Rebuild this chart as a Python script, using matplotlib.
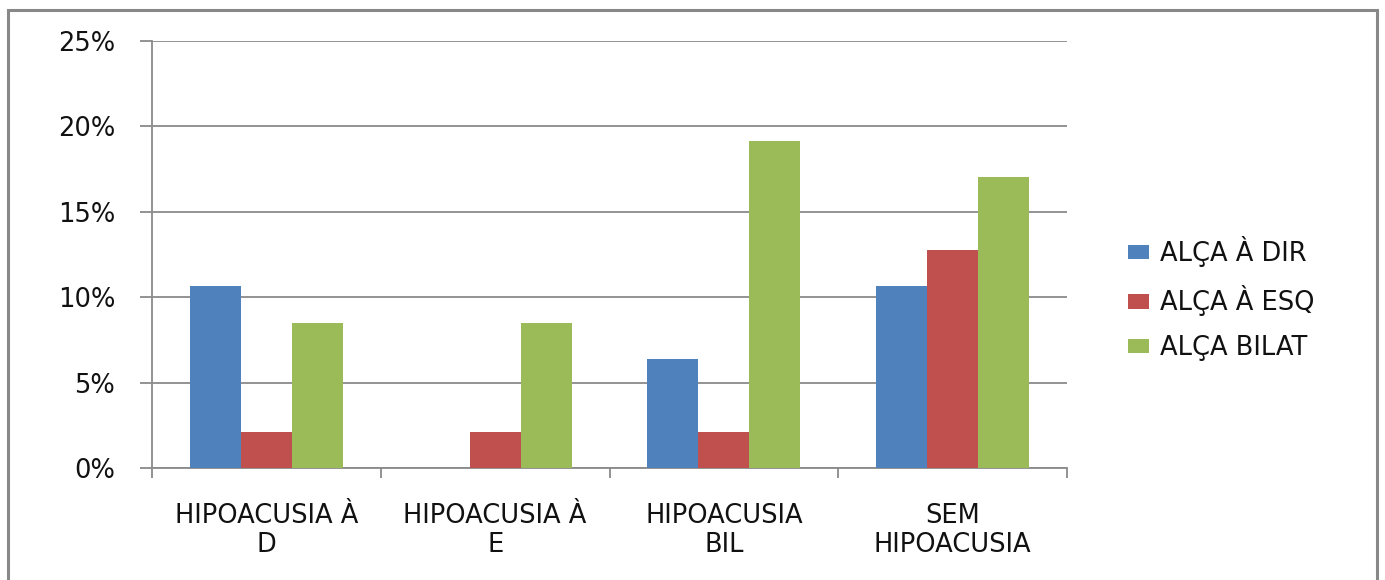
import matplotlib
matplotlib.use("Agg")
import matplotlib.pyplot as plt
from matplotlib.patches import Rectangle
from matplotlib.ticker import FuncFormatter, MultipleLocator
import numpy as np

categories = ["HIPOACUSIA À\nD", "HIPOACUSIA À\nE", "HIPOACUSIA\nBIL", "SEM\nHIPOACUSIA"]
series_names = ["ALÇA À DIR", "ALÇA À ESQ", "ALÇA BILAT"]
alca_dir = [10.64, 0.0, 6.38, 10.64]
alca_esq = [2.13, 2.13, 2.13, 12.77]
alca_bilat = [8.51, 8.51, 19.15, 17.02]
colors = ["#4F81BD", "#C0504D", "#9BBB59"]

plt.rcParams["font.family"] = ["DejaVu Sans"]
FS = 18.5
TXT = "#111111"

W, H = 1385, 580
fig = plt.figure(figsize=(W / 100, H / 100), dpi=100)

# plot area in pixel terms
x0, x1, y0, y1 = 152, 1067, 41, 468
ax = fig.add_axes([x0 / W, (H - y1) / H, (x1 - x0) / W, (y1 - y0) / H])

grey = "#8a8a8a"
x = np.arange(len(categories))
bw = 0.223
for i, (vals, name) in enumerate(zip([alca_dir, alca_esq, alca_bilat], series_names)):
    ax.bar(x + (i - 1) * bw, vals, width=bw, color=colors[i], label=name, zorder=3)

ax.set_xlim(-0.5, len(categories) - 0.5)
ax.set_ylim(0, 25)
ax.yaxis.set_major_locator(MultipleLocator(5))
ax.yaxis.set_major_formatter(FuncFormatter(lambda v, p: f"{v:.0f}%"))
ax.grid(axis="y", color=grey, linewidth=1.3, zorder=0)

ax.set_xticks(x)
ax.set_xticklabels(categories, fontsize=FS, linespacing=1.15, color=TXT)
ax.set_xticks(np.arange(-0.5, len(categories)), minor=True)
ax.tick_params(axis="x", which="major", length=0, pad=25)
ax.tick_params(axis="x", which="minor", length=7, width=1.3, color=grey)
ax.tick_params(axis="y", length=8.6, width=1.3, color=grey, labelsize=FS,
               labelcolor=TXT, pad=18)

for s in ["top", "right"]:
    ax.spines[s].set_visible(False)
for s in ["left", "bottom"]:
    ax.spines[s].set_color(grey)
    ax.spines[s].set_linewidth(1.3)

leg = fig.legend(loc="upper left", bbox_to_anchor=(1128 / W, 1 - 236 / H), frameon=False,
                 fontsize=FS, handlelength=0.8, handleheight=0.5, handletextpad=0.45,
                 labelspacing=0.72, borderaxespad=0, borderpad=0)
for t in leg.get_texts():
    t.set_color(TXT)

# outer chart border
fig.patches.append(Rectangle((8 / W, -0.1), (1377 - 8) / W, 1.1 - 10 / H,
                             transform=fig.transFigure, fill=False,
                             edgecolor="#888888", linewidth=2.2))

fig.savefig("out.png", dpi=100)
